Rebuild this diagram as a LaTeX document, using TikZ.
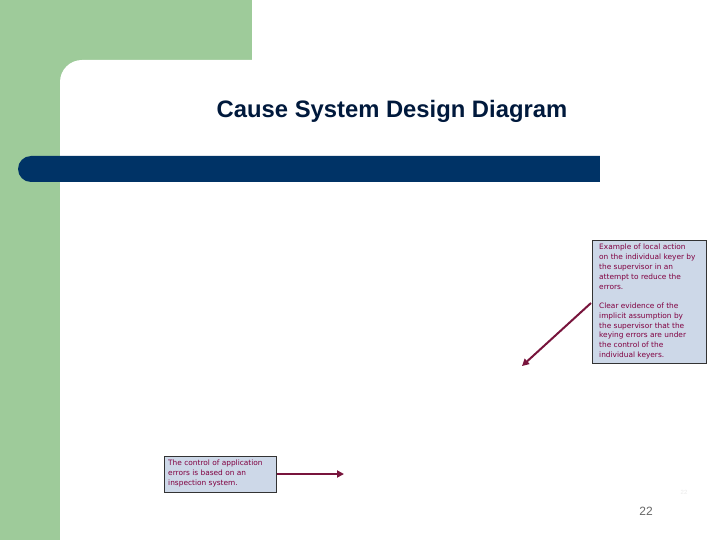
\documentclass[tikz,border=0pt]{standalone}
\usepackage{fontspec}
\setmainfont{Liberation Sans}
\newfontfamily\notefont{DejaVu Sans}
\usetikzlibrary{arrows.meta}
\definecolor{sgreen}{RGB}{158,203,154}
\definecolor{navy}{RGB}{0,51,102}
\definecolor{titleblue}{RGB}{0,25,60}
\definecolor{boxfill}{RGB}{205,216,232}
\definecolor{maroon}{RGB}{128,0,64}
\definecolor{arrowc}{RGB}{120,20,60}
\tikzset{
  notebox/.style={text=maroon, align=left, font=\notefont\fontsize{7.4}{9.8}\selectfont, inner sep=0pt, anchor=north west},
  boxframe/.style={draw=black!80, line width=0.8pt, fill=boxfill},
  conn/.style={draw=arrowc, line width=2pt, -{Triangle[length=7pt,width=7pt]}}
}
\begin{document}
\begin{tikzpicture}[x=1pt,y=-1pt]
\useasboundingbox (0,0) rectangle (720,540);
\fill[white] (0,0) rectangle (720,540);
% green background
\fill[sgreen] (0,0) rectangle (252,80);
\fill[sgreen] (0,0) rectangle (60,540);
\fill[white, rounded corners=22pt] (60,60) rectangle (760,580);
% navy bar
\fill[navy, rounded corners=13pt] (18,156) rectangle (640,182);
\fill[white] (600,150) rectangle (720,190);
% title
\node[font=\bfseries\fontsize{23.8}{28}\selectfont, text=titleblue] (title) at (392,111.5) {Cause System Design Diagram};
% right box
\draw[boxframe] (592,240) rectangle (706,363);
\node[notebox] (rbox) at (599,244) {Example of local action\\on the individual keyer by\\the supervisor in an\\attempt to reduce the\\errors.\\[9.6pt]Clear evidence of the\\implicit assumption by\\the supervisor that the\\keying errors are under\\the control of the\\individual keyers.};
\coordinate (rstart) at (591,303);
\coordinate (rend) at (522,366);
\draw[conn] (rstart) -- (rend);
% left box
\draw[boxframe] (164,456) rectangle (276,492);
\node[notebox] (lbox) at (168,460) {The control of application\\errors is based on an\\inspection system.};
\coordinate (lstart) at (277,474);
\coordinate (lend) at (344,474);
\draw[conn] (lstart) -- (lend);
% page numbers
\node[font=\fontsize{6}{7}\selectfont, text=black!8] (pn1) at (684,492) {22};
\node[font=\fontsize{12}{14}\selectfont, text=black!60] (pn2) at (646,511) {22};
\end{tikzpicture}
\end{document}
